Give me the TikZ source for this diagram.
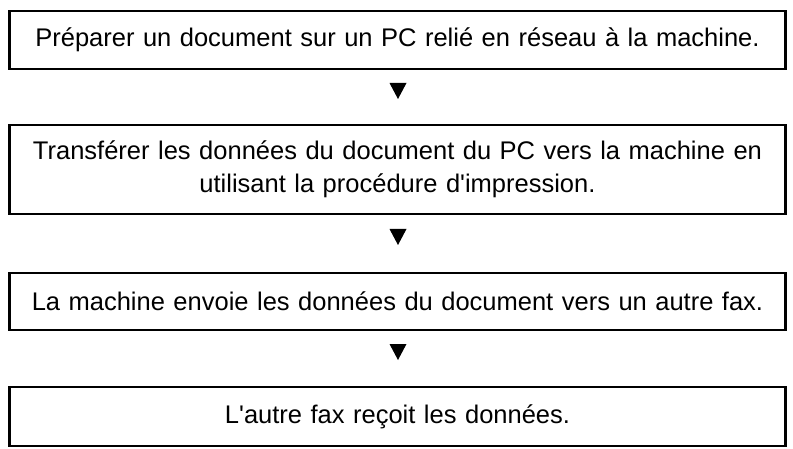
\documentclass[tikz,border=0pt]{standalone}
\usepackage{fontspec}
\setmainfont{Liberation Sans}
\begin{document}
\begin{tikzpicture}[x=1pt,y=-1pt,
  stepbox/.style={draw=black, line width=2.6pt, fill=white, inner sep=0pt,
    minimum width=776pt, align=center, text width=770pt,
    font=\fontsize{25.5}{33}\selectfont},
  tri/.style={fill=black}]
\useasboundingbox (0,0) rectangle (793,449);
\node[stepbox, minimum height=58pt] (b1) at (397.5,40) {Préparer un document sur un PC relié en réseau à la machine.};
\node[stepbox, minimum height=89pt] (b2) at (397.5,169.5) {Transférer les données du document du PC vers la machine en\\utilisant la procédure d\textquotesingle impression.};
\node[stepbox, minimum height=57pt] (b3) at (397.5,301.5) {La machine envoie les données du document vers un autre fax.};
\node[stepbox, minimum height=59pt] (b4) at (397.5,416.5) {L\textquotesingle autre fax reçoit les données.};
\coordinate (t1) at (398,91);
\coordinate (t2) at (398,237);
\coordinate (t3) at (398,352);
\foreach \t in {t1,t2,t3}{
  \fill[tri] ([shift={(-8.5,-8)}]\t) -- ([shift={(8.5,-8)}]\t) -- ([shift={(0,8)}]\t) -- cycle;
}
\end{tikzpicture}
\end{document}
